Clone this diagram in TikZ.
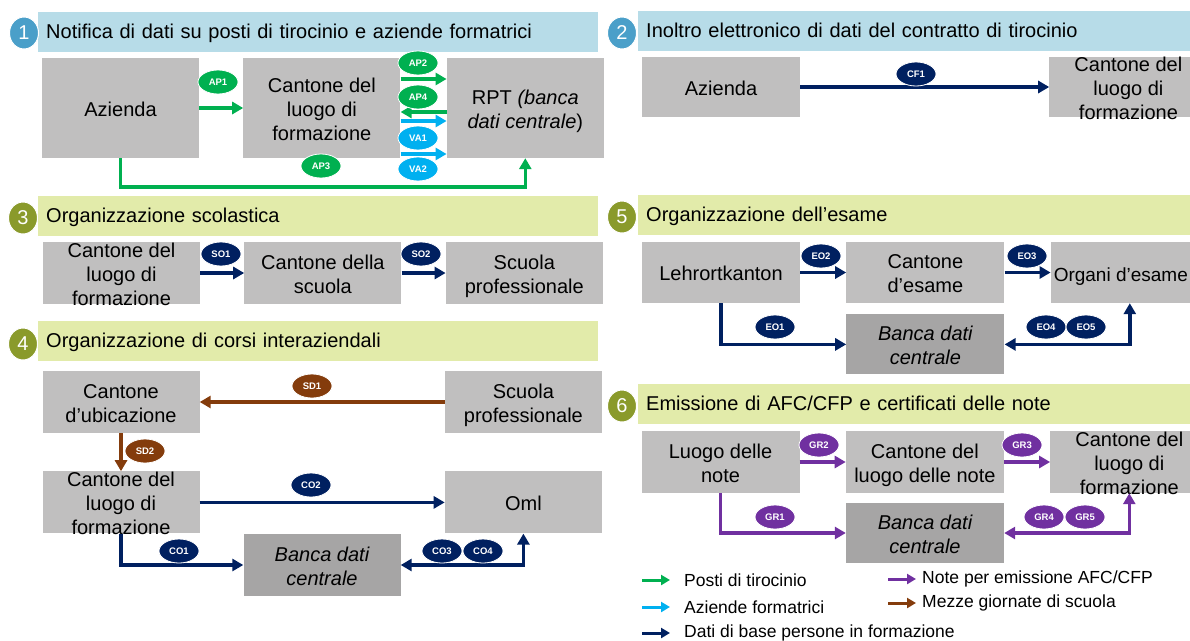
\documentclass[tikz,border=0pt]{standalone}
\usepackage{fontspec}
\setmainfont{Liberation Sans}
\usetikzlibrary{positioning, shapes.geometric, arrows.meta}

\definecolor{bandblue}{HTML}{B7DCE8}
\definecolor{numblue}{HTML}{4A9FC9}
\definecolor{bandgreen}{HTML}{E2EBAA}
\definecolor{numgreen}{HTML}{8A9A2B}
\definecolor{boxgray}{HTML}{C0BFBF}
\definecolor{bankgray}{HTML}{A6A5A5}
\definecolor{apgreen}{HTML}{00B050}
\definecolor{vablue}{HTML}{00B0F0}
\definecolor{navy}{HTML}{002060}
\definecolor{grpurple}{HTML}{7030A0}
\definecolor{sdbrown}{HTML}{843C0C}

\newcommand{\boxtext}[1]{\smash{\raisebox{-8.5pt}{\begin{tabular}{@{}c@{}}#1\end{tabular}}}}

\begin{document}
\begin{tikzpicture}[x=1pt, y=-1pt,
box/.style={fill=boxgray, minimum width=157pt, minimum height=62pt, inner sep=0pt, font=\fontsize{20}{24}\selectfont},
bank/.style={box, fill=bankgray, font=\fontsize{20}{24}\selectfont\itshape},
tag/.style={ellipse, draw=white, line width=0.8pt, minimum width=40pt, minimum height=24pt, inner sep=0pt, text=white, font=\fontsize{9.5}{10}\selectfont\bfseries},
flow/.style={line width=3.5pt, -{Triangle[length=11pt, width=12pt]}},
backflow/.style={line width=3.5pt, {Triangle[length=11pt, width=12pt]}-},
twoway/.style={line width=3.5pt, {Triangle[length=11pt, width=12pt]}-{Triangle[length=11pt, width=12pt]}},
head/.style={anchor=west, minimum width=560pt, minimum height=40pt, inner xsep=8pt, text width=544pt, align=left, text height=14pt, text depth=1pt, font=\fontsize{20}{24}\selectfont},
num/.style={ellipse, minimum width=29pt, minimum height=32pt, inner sep=0pt, draw=white, line width=1pt, text=white, font=\fontsize{20}{24}\selectfont},
legtext/.style={anchor=west, inner sep=0pt, font=\fontsize{17.5}{20}\selectfont},
legarrow/.style={line width=3pt, -{Triangle[length=9pt, width=10pt]}}
]
\useasboundingbox (0,0) rectangle (1190,640);
\clip (0,0) rectangle (1190,640);

%Headers
\node[head, fill=bandblue]  (head1) at (38,32)    {Notifica di dati su posti di tirocinio e aziende formatrici};
\node[head, fill=bandblue]  (head2) at (638,31)   {Inoltro elettronico di dati del contratto di tirocinio};
\node[head, fill=bandgreen] (head3) at (38,216)   {Organizzazione scolastica};
\node[head, fill=bandgreen] (head5) at (638,215)  {Organizzazione dell’esame};
\node[head, fill=bandgreen] (head4) at (38,341)   {Organizzazione di corsi interaziendali};
\node[head, fill=bandgreen] (head6) at (638,404)  {Emissione di AFC/CFP e certificati delle note};
\node[num, fill=numblue]  (num1) at (24,33)  {1};
\node[num, fill=numblue]  (num2) at (622,33) {2};
\node[num, fill=numgreen] (num3) at (23,218) {3};
\node[num, fill=numgreen] (num5) at (622,217) {5};
\node[num, fill=numgreen] (num4) at (23,344) {4};
\node[num, fill=numgreen] (num6) at (622,406) {6};

%Nodes
% 1
\node[box, minimum height=100pt] (azienda1) at (120.5,108)          {\boxtext{Azienda}};
\node[box, minimum height=100pt] (cantone1) [right=44pt of azienda1] {\boxtext{Cantone del\\luogo di\\formazione}};
\node[box, minimum height=100pt] (rpt)      [right=46pt of cantone1] {\boxtext{RPT \textit{(banca}\\\textit{dati centrale})}};
% 2
\node[box, minimum height=60pt, minimum width=158pt] (azienda2) at (721,87)             {\boxtext{Azienda}};
\node[box, minimum height=60pt, minimum width=158pt] (cantone2) [right=249pt of azienda2] {\boxtext{Cantone del\\luogo di\\formazione}};
% 3
\node[box] (ctl3)       at (121.5,273)            {\boxtext{Cantone del\\luogo di\\formazione}};
\node[box] (schoolcant) [right=44pt of ctl3]       {\boxtext{Cantone della\\scuola}};
\node[box] (scuola3)    [right=44pt of schoolcant] {\boxtext{Scuola\\professionale}};
% 5
\node[box, minimum height=61pt, minimum width=158pt] (lehr)   at (721,272.5)         {\boxtext{Lehrortkanton}};
\node[box, minimum height=61pt, minimum width=158pt] (esame)  [right=46pt of lehr]   {\boxtext{Cantone\\d’esame}};
\node[box, minimum height=61pt, minimum width=158pt, font=\fontsize{19}{24}\selectfont] (organi) [right=46pt of esame] {\boxtext{\hspace*{-18pt}Organi d’esame}};
\node[bank, minimum height=60pt, minimum width=158pt] (bank5) [below=11pt of esame] {\boxtext{Banca dati\\centrale}};
% 4
\node[box] (ubic)    at (121,402)             {\boxtext{Cantone\\d’ubicazione}};
\node[box] (scuola4) [right=245pt of ubic]    {\boxtext{Scuola\\professionale}};
\node[box] (ctl4)    [below=38pt of ubic]     {\boxtext{Cantone del\\luogo di\\formazione}};
\node[box] (oml)     [right=245pt of ctl4]    {\boxtext{Oml}};
\node[bank] (bank4)  at (322,565)             {\boxtext{Banca dati\\centrale}};
% 6
\node[box, minimum width=158pt] (luogo) at (720.5,462)        {\boxtext{Luogo delle\\note}};
\node[box, minimum width=158pt] (cln)   [right=46pt of luogo] {\boxtext{Cantone del\\luogo delle note}};
\node[box, minimum width=158pt] (clf)   [right=46pt of cln]   {\boxtext{Cantone del\\luogo di\\formazione}};
\node[bank, minimum height=60pt, minimum width=158pt] (bank6) at (925,533) {\boxtext{Banca dati\\centrale}};

%Lines
\draw[flow, apgreen] (azienda1) -- (cantone1);
\draw[flow, apgreen] ([yshift=29pt]cantone1.east) -- ([yshift=29pt]rpt.west);
\draw[backflow, apgreen] ([yshift=-4pt]cantone1.east) -- ([yshift=-4pt]rpt.west);
\draw[flow, vablue] ([yshift=-13pt]cantone1.east) -- ([yshift=-13pt]rpt.west);
\draw[flow, vablue] ([yshift=-46pt]cantone1.east) -- ([yshift=-46pt]rpt.west);
\draw[flow, apgreen] (azienda1.south) -- ++(0,29) -| (rpt.south);
\draw[flow, navy] (azienda2) -- (cantone2);
\draw[flow, navy] (ctl3) -- (schoolcant);
\draw[flow, navy] (schoolcant) -- (scuola3);
\draw[flow, navy] (lehr) -- (esame);
\draw[flow, navy] (esame) -- (organi);
\draw[flow, navy] (lehr.south) |- (bank5);
\draw[twoway, navy] (bank5) -| (organi);
\draw[flow, sdbrown] (scuola4) -- (ubic);
\draw[flow, sdbrown] (ubic) -- (ctl4);
\draw[flow, navy] (ctl4) -- (oml);
\draw[flow, navy] (ctl4.south) |- (bank4);
\draw[twoway, navy] (bank4) -| (oml);
\draw[flow, grpurple] (luogo) -- (cln);
\draw[flow, grpurple] (cln) -- (clf);
\draw[flow, grpurple] (luogo.south) |- (bank6);
\draw[twoway, grpurple] (bank6) -| (clf);

%Tags
\node[tag, fill=apgreen] (ap1) at (218,82)  {AP1};
\node[tag, fill=apgreen] (ap2) at (418,63)  {AP2};
\node[tag, fill=apgreen] (ap4) at (418,97)  {AP4};
\node[tag, fill=vablue]  (va1) at (418,138) {VA1};
\node[tag, fill=vablue]  (va2) at (418,169) {VA2};
\node[tag, fill=apgreen] (ap3) at (321,166) {AP3};
\node[tag, fill=navy] (cf1) at (916,74)  {CF1};
\node[tag, fill=navy] (so1) at (221,254) {SO1};
\node[tag, fill=navy] (so2) at (421,254) {SO2};
\node[tag, fill=navy] (eo2) at (821,256) {EO2};
\node[tag, fill=navy] (eo3) at (1027,256) {EO3};
\node[tag, fill=navy] (eo1) at (775,327) {EO1};
\node[tag, fill=navy] (eo4) at (1046,327) {EO4};
\node[tag, fill=navy] (eo5) at (1086,327) {EO5};
\node[tag, fill=sdbrown] (sd1) at (312,386) {SD1};
\node[tag, fill=sdbrown] (sd2) at (145,451) {SD2};
\node[tag, fill=navy] (co2) at (311,485) {CO2};
\node[tag, fill=navy] (co1) at (179,551) {CO1};
\node[tag, fill=navy] (co3) at (442,551) {CO3};
\node[tag, fill=navy] (co4) at (483,551) {CO4};
\node[tag, fill=grpurple] (gr2) at (819,445)  {GR2};
\node[tag, fill=grpurple] (gr3) at (1022,445) {GR3};
\node[tag, fill=grpurple] (gr1) at (775,517)  {GR1};
\node[tag, fill=grpurple] (gr4) at (1044,517) {GR4};
\node[tag, fill=grpurple] (gr5) at (1085,517) {GR5};

%Legend
\node[legtext] (lg1) at (684,580) {Posti di tirocinio};
\node[legtext] (lg2) at (684,607) {Aziende formatrici};
\node[legtext] (lg3) at (684,633) {Dati di base persone in formazione};
\node[legtext] (lg4) at (922,579) {Note per emissione AFC/CFP};
\node[legtext] (lg5) at (922,603) {Mezze giornate di scuola};
\draw[legarrow, apgreen]  ([xshift=-42pt]lg1.west) -- ([xshift=-14pt]lg1.west);
\draw[legarrow, vablue]   ([xshift=-42pt]lg2.west) -- ([xshift=-14pt]lg2.west);
\draw[legarrow, navy]     ([xshift=-42pt]lg3.west) -- ([xshift=-14pt]lg3.west);
\draw[legarrow, grpurple] ([xshift=-34pt]lg4.west) -- ([xshift=-6pt]lg4.west);
\draw[legarrow, sdbrown]  ([xshift=-34pt]lg5.west) -- ([xshift=-6pt]lg5.west);
\end{tikzpicture}
\end{document}
